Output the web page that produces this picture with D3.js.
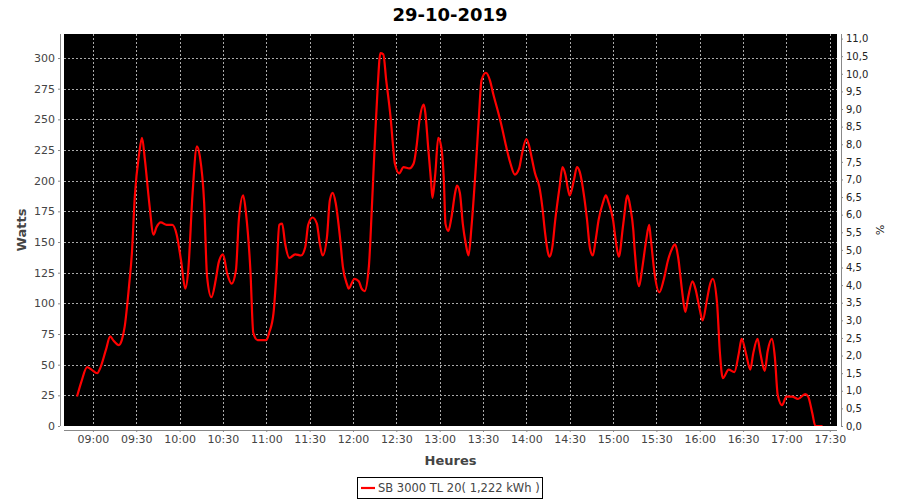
<!DOCTYPE html>
<html>
<head>
<meta charset="utf-8">
<script src="https://cdn.jsdelivr.net/npm/d3@7/dist/d3.min.js"></script>
<style>
  html, body { margin: 0; padding: 0; background: #fff; }
  svg { display: block; }
</style>
</head>
<body>
<svg id="chart" width="900" height="500"></svg>
<script>
// ---- Data ----
const chartTitle = "29-10-2019";
const seriesName = "SB 3000 TL 20( 1,222 kWh )";
const times = [
  "08:49","08:52","08:56","08:59","09:03","09:05","09:09","09:12","09:14","09:18",
  "09:20","09:22","09:25","09:27","09:29","09:32","09:34","09:36","09:39","09:42",
  "09:44","09:47","09:51","09:55","09:58","10:01","10:04","10:06","10:09","10:12",
  "10:14","10:17","10:19","10:22","10:25","10:27","10:30","10:33","10:36","10:39",
  "10:41","10:44","10:46","10:49","10:51","10:54","10:58","11:00","11:02","11:05",
  "11:07","11:09","11:11","11:13","11:16","11:20","11:24","11:27","11:29","11:32",
  "11:35","11:37","11:39","11:42","11:44","11:46","11:48","11:51","11:53","11:56",
  "11:57","12:01","12:04","12:06","12:08","12:11","12:13","12:15","12:17","12:19",
  "12:21","12:23","12:26","12:28","12:29","12:32","12:35","12:39","12:42","12:44",
  "12:46","12:49","12:50","12:52","12:54","12:55","12:57","12:59","13:01","13:03",
  "13:04","13:06","13:08","13:11","13:12","13:14","13:16","13:18","13:20","13:22",
  "13:25","13:27","13:29","13:32","13:35","13:37","13:40","13:43","13:46","13:49",
  "13:52","13:55","13:57","14:00","14:02","14:04","14:06","14:09","14:11","14:13",
  "14:15","14:16","14:18","14:20","14:23","14:25","14:27","14:29","14:30","14:33",
  "14:35","14:37","14:40","14:42","14:44","14:46","14:48","14:50","14:53","14:55",
  "14:57","15:00","15:02","15:04","15:07","15:10","15:12","15:14","15:15","15:18",
  "15:20","15:23","15:25","15:26","15:29","15:32","15:35","15:38","15:41","15:43",
  "15:45","15:48","15:50","15:52","15:55","15:57","16:00","16:02","16:05","16:07",
  "16:09","16:12","16:14","16:16","16:20","16:24","16:27","16:29","16:32","16:35",
  "16:37","16:40","16:42","16:45","16:47","16:50","16:52","16:54","16:57","17:00",
  "17:04","17:08","17:13","17:15","17:18","17:20","17:25"
];
const watts = [
  24,36,48,46,43,47,62,73,70,66,
  70,81,114,141,187,222,235,217,182,156,
  162,166,164,164,156,135,112,127,190,228,
  220,182,122,105,119,133,140,124,116,127,
  168,188,173,127,76,70,70,70,76,92,
  124,164,165,149,137,140,139,146,164,170,
  165,149,139,154,184,190,182,154,130,115,
  112,120,118,112,110,130,176,228,274,304,
  303,282,252,225,214,206,211,210,214,228,
  249,262,256,228,200,186,206,235,228,198,
  165,159,169,192,196,190,165,149,139,162,
  211,249,282,288,281,271,258,244,228,214,
  205,210,222,234,228,217,206,195,179,157,
  141,138,146,168,195,211,205,192,188,201,
  211,207,187,168,145,139,152,168,182,188,
  182,168,150,138,164,188,178,160,143,114,
  127,152,164,154,122,109,119,135,145,148,
  138,108,93,105,118,112,95,86,103,115,
  120,100,59,39,46,44,59,71,59,46,
  59,71,59,45,61,71,56,25,17,24,
  24,22,26,24,10,0,0
];
const xTickLabels = ["09:00","09:30","10:00","10:30","11:00","11:30","12:00","12:30",
  "13:00","13:30","14:00","14:30","15:00","15:30","16:00","16:30","17:00","17:30"];
const leftTicks = [0,25,50,75,100,125,150,175,200,225,250,275,300];
const rightTicks = [0,0.5,1,1.5,2,2.5,3,3.5,4,4.5,5,5.5,6,6.5,7,7.5,8,8.5,9,9.5,10,10.5,11];

// ---- Layout ----
const plot = { left: 64, right: 837, top: 34, bottom: 426 };
const parse = d3.timeParse("%Y-%m-%d %H:%M");
const day = "2019-10-29 ";
const data = times.map((t, i) => ({ t: parse(day + t), v: watts[i] }));

const x = d3.scaleTime()
  .domain([parse(day + "08:40"), parse(day + "17:35")])
  .range([plot.left, plot.right]);
const y = d3.scaleLinear().domain([0, 320]).range([plot.bottom, 33.5]);
const y2 = d3.scaleLinear().domain([0, 11.13]).range([plot.bottom, plot.top]);

const svg = d3.select("#chart");
const font = "'DejaVu Sans', sans-serif";

// Title
svg.append("text")
  .attr("x", 450).attr("y", 21)
  .attr("text-anchor", "middle")
  .attr("font-family", font).attr("font-weight", "bold").attr("font-size", 18)
  .attr("fill", "#000")
  .text(chartTitle);

// Plot background
svg.append("rect")
  .attr("x", plot.left).attr("y", plot.top)
  .attr("width", plot.right - plot.left).attr("height", plot.bottom - plot.top)
  .attr("fill", "#000");

// Gridlines
const grid = svg.append("g").attr("stroke", "#aaa").attr("stroke-width", 1)
  .attr("stroke-dasharray", "2,2").attr("shape-rendering", "crispEdges");
const xTickDates = xTickLabels.map(s => parse(day + s));
grid.selectAll("line.v").data(xTickDates).enter().append("line")
  .attr("x1", d => Math.round(x(d)) + 0.5).attr("x2", d => Math.round(x(d)) + 0.5)
  .attr("y1", plot.top).attr("y2", plot.bottom);
grid.selectAll("line.h").data(leftTicks.filter(d => d > 0)).enter().append("line")
  .attr("x1", plot.left).attr("x2", plot.right)
  .attr("y1", d => Math.round(y(d)) + 0.5).attr("y2", d => Math.round(y(d)) + 0.5);

// Clip + line
svg.append("clipPath").attr("id", "clip").append("rect")
  .attr("x", plot.left).attr("y", plot.top)
  .attr("width", plot.right - plot.left).attr("height", plot.bottom - plot.top);
const line = d3.line().x(d => x(d.t)).y(d => y(d.v)).curve(d3.curveMonotoneX);
svg.append("path")
  .datum(data)
  .attr("clip-path", "url(#clip)")
  .attr("fill", "none").attr("stroke", "#ff0000").attr("stroke-width", 2.2)
  .attr("stroke-linejoin", "round")
  .attr("d", line);

// Axes
const tickColor = "#444";
const xAxis = d3.axisBottom(x).tickValues(xTickDates)
  .tickFormat(d3.timeFormat("%H:%M")).tickSizeInner(2).tickSizeOuter(0).tickPadding(3);
const gx = svg.append("g").attr("transform", `translate(0,${plot.bottom + 4})`).call(xAxis);
gx.select(".domain").attr("d", `M${plot.left},0.5H${plot.right}`).attr("stroke", "#888");
gx.selectAll(".tick line").attr("stroke", "#888");
gx.selectAll(".tick text").attr("font-family", font).attr("font-size", 11).attr("fill", tickColor);

const yAxis = d3.axisLeft(y).tickValues(leftTicks).tickSizeInner(2).tickSizeOuter(0).tickPadding(3);
const gy = svg.append("g").attr("transform", `translate(${plot.left - 4},0)`).call(yAxis);
gy.select(".domain").attr("d", `M0.5,${plot.top}V${plot.bottom}`).attr("stroke", "#888");
gy.selectAll(".tick line").attr("stroke", "#888");
gy.selectAll(".tick text").attr("font-family", font).attr("font-size", 11).attr("fill", tickColor);

const fmtComma = v => d3.format(".1f")(v).replace(".", ",");
const y2Axis = d3.axisRight(y2).tickValues(rightTicks).tickFormat(fmtComma)
  .tickSizeInner(2).tickSizeOuter(0).tickPadding(3);
const gy2 = svg.append("g").attr("transform", `translate(${plot.right + 4},0)`).call(y2Axis);
gy2.select(".domain").attr("d", `M0.5,${plot.top}V${plot.bottom}`).attr("stroke", "#888");
gy2.selectAll(".tick line").attr("stroke", "#888");
gy2.selectAll(".tick text").attr("font-family", font).attr("font-size", 10).attr("fill", "#222");

// Axis labels
svg.append("text")
  .attr("transform", `translate(26,${(plot.top + plot.bottom) / 2}) rotate(-90)`)
  .attr("text-anchor", "middle")
  .attr("font-family", font).attr("font-weight", "bold").attr("font-size", 13)
  .attr("fill", "#444").text("Watts");
svg.append("text")
  .attr("x", (plot.left + plot.right) / 2).attr("y", 465)
  .attr("text-anchor", "middle")
  .attr("font-family", font).attr("font-weight", "bold").attr("font-size", 13)
  .attr("fill", "#444").text("Heures");
svg.append("text")
  .attr("transform", `translate(876,${(plot.top + plot.bottom) / 2}) rotate(90)`)
  .attr("text-anchor", "middle")
  .attr("font-family", font).attr("font-size", 11)
  .attr("fill", "#222").text("%");

// Legend
const lg = svg.append("g");
lg.append("rect").attr("x", 357.5).attr("y", 477.5).attr("width", 185).attr("height", 21)
  .attr("fill", "#fff").attr("stroke", "#000").attr("stroke-width", 1);
lg.append("line").attr("x1", 361).attr("x2", 375).attr("y1", 488).attr("y2", 488)
  .attr("stroke", "#ff0000").attr("stroke-width", 2.2);
lg.append("text").attr("x", 378).attr("y", 492)
  .attr("font-family", font).attr("font-size", 11.5).attr("fill", "#444")
  .text(seriesName);
</script>
</body>
</html>
